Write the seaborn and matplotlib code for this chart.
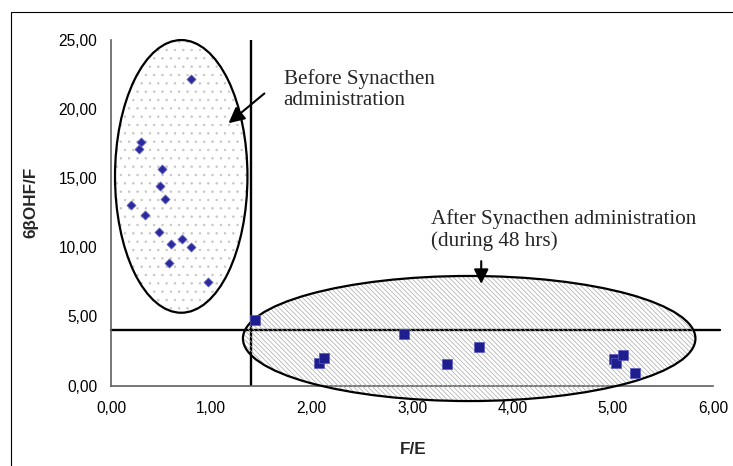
import numpy as np
import pandas as pd
import seaborn as sns
import matplotlib.pyplot as plt
from matplotlib.patches import Ellipse, Rectangle
from matplotlib.ticker import FuncFormatter, MultipleLocator

# ---- dados ----
antes_fe = [0.80, 0.30, 0.28, 0.505, 0.49, 0.54, 0.20, 0.335, 0.48, 0.71, 0.60, 0.80, 0.575, 0.97]
antes_ohf = [22.18, 17.62, 17.09, 15.69, 14.44, 13.52, 13.06, 12.32, 11.13, 10.58, 10.22, 10.02, 8.86, 7.47]

depois_fe = [1.44, 2.07, 2.12, 2.92, 3.35, 3.67, 5.01, 5.03, 5.10, 5.22]
depois_ohf = [4.74, 1.65, 2.01, 3.73, 1.56, 2.79, 1.92, 1.61, 2.21, 0.93]

corte_fe = 1.40
corte_ohf = 4.0

txt_antes = "Before Synacthen\nadministration"
txt_depois = "After Synacthen administration\n(during 48 hrs)"

df_antes = pd.DataFrame({"fe": antes_fe, "ohf": antes_ohf})
df_depois = pd.DataFrame({"fe": depois_fe, "ohf": depois_ohf})

sns.set_style("white")
plt.rcParams["font.family"] = ["Liberation Sans", "DejaVu Sans"]
plt.rcParams["hatch.linewidth"] = 0.5
plt.rcParams["hatch.color"] = "#a8a8a8"

fig = plt.figure(figsize=(7.33, 4.66), dpi=100)
ax = fig.add_axes([111 / 733, 1 - 385.5 / 466, 602 / 733, 345.5 / 466])

# moldura da figura (só esquerda e topo aparecem)
fig.patches.append(Rectangle((11 / 733, -0.5), 2, 1.5 - 12 / 466, transform=fig.transFigure,
                             fill=False, ec="black", lw=0.8))

# linhas de corte
ax.axvline(corte_fe, color="black", lw=1.7, zorder=2)
ax.plot([0, 6.07], [corte_ohf, corte_ohf], color="black", lw=1.7, clip_on=False, zorder=2)

# elipses com padrão
el1 = Ellipse((0.70, 15.13), 1.32, 19.73, facecolor="none", edgecolor="#c4c4c4",
              hatch="..", lw=0, clip_on=False, zorder=3)
el1b = Ellipse((0.70, 15.13), 1.32, 19.73, fill=False, edgecolor="black", lw=1.6,
               clip_on=False, zorder=4)
el2 = Ellipse((3.57, 3.40), 4.51, 9.05, facecolor="none", edgecolor="#a8a8a8",
              hatch="\\" * 7, lw=0, clip_on=False, zorder=3)
el2b = Ellipse((3.57, 3.40), 4.51, 9.05, fill=False, edgecolor="black", lw=1.6,
               clip_on=False, zorder=4)
for e in [el1, el1b, el2, el2b]:
    ax.add_patch(e)

# pontos
sns.scatterplot(data=df_antes, x="fe", y="ohf", marker="D", s=22, color="#2a2a9c",
                edgecolor="#7070d0", linewidth=0.5, ax=ax, zorder=5, clip_on=False)
sns.scatterplot(data=df_depois, x="fe", y="ohf", marker="s", s=55, color="#1e1e8e",
                edgecolor="#5a5ac0", linewidth=0.5, ax=ax, zorder=5, clip_on=False)

# textos e setas
serif = ["Liberation Serif", "DejaVu Serif"]
ax.text(1.72, 21.42, txt_antes, family=serif, fontsize=15.2, ha="left", va="center",
        linespacing=1.15)
ax.annotate("", xy=(1.15, 18.85), xytext=(1.55, 21.26),
            arrowprops=dict(arrowstyle="-|>", color="black", lw=1.5, mutation_scale=24))
ax.text(3.19, 11.25, txt_depois, family=serif, fontsize=15.2, ha="left", va="center",
        linespacing=1.15)
ax.annotate("", xy=(3.69, 7.15), xytext=(3.69, 9.2),
            arrowprops=dict(arrowstyle="-|>", color="black", lw=1.5, mutation_scale=22))

# eixos
ax.set_xlim(0, 6)
ax.set_ylim(0, 25)
ax.xaxis.set_major_locator(MultipleLocator(1))
ax.yaxis.set_major_locator(MultipleLocator(5))
fmt = FuncFormatter(lambda v, p: f"{v:.2f}".replace(".", ","))
ax.xaxis.set_major_formatter(fmt)
ax.yaxis.set_major_formatter(fmt)
ax.tick_params(axis="both", direction="out", length=4, width=1, color="#606060",
               labelsize=11.2, labelcolor="black")
ax.tick_params(axis="x", pad=7)
ax.tick_params(axis="y", pad=6)
for lado in ["top", "right"]:
    ax.spines[lado].set_visible(False)
for lado in ["left", "bottom"]:
    ax.spines[lado].set_color("#606060")
    ax.spines[lado].set_linewidth(1.2)

ax.set_xlabel("F/E", fontsize=12.3, fontweight="bold")
ax.set_ylabel("6βOHF/F", fontsize=12.3, fontweight="bold")
ax.xaxis.set_label_coords(0.502, (385.5 - 441.7) / 345.5)
ax.yaxis.set_label_coords((38 - 111) / 602, (385.5 - 202.5) / 345.5)

fig.savefig("out.png", dpi=100)
